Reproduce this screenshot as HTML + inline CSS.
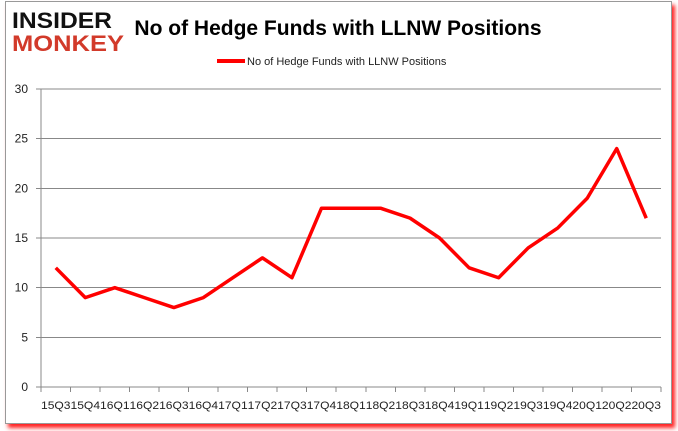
<!DOCTYPE html>
<html><head><meta charset="utf-8"><style>
body{margin:0;background:#fff;width:678px;height:431px;overflow:hidden;font-family:"Liberation Sans",sans-serif}
#frame{position:absolute;left:5px;top:1px;width:665px;height:421px;border:1px solid #999;background:#fff;box-shadow:3px 4px 4px #f22}
</style></head><body>
<div id="frame"></div>
<svg id="c" width="678" height="431" style="position:absolute;left:0;top:0">
<text x="12" y="28" font-size="22" font-weight="bold" fill="#111" font-family="Liberation Sans" textLength="100" lengthAdjust="spacingAndGlyphs">INSIDER</text>
<text x="12" y="51" font-size="22" font-weight="bold" fill="#d23a2a" font-family="Liberation Sans" textLength="112" lengthAdjust="spacingAndGlyphs">MONKEY</text>
<text x="338" y="35" font-size="21" font-weight="bold" fill="#000" text-anchor="middle">No of Hedge Funds with LLNW Positions</text>
<line x1="217" y1="61" x2="245" y2="61" stroke="#f00" stroke-width="4"/>
<text x="247" y="65" font-size="11" fill="#222">No of Hedge Funds with LLNW Positions</text>
<g id="g"></g>
</svg>
<script>
const categories=["15Q3","15Q4","16Q1","16Q2","16Q3","16Q4","17Q1","17Q2","17Q3","17Q4","18Q1","18Q2","18Q3","18Q4","19Q1","19Q2","19Q3","19Q4","20Q1","20Q2","20Q3"];
const values=[12,9,10,9,8,9,11,13,11,18,18,18,17,15,12,11,14,16,19,24,17];
const yTicks=[0,5,10,15,20,25,30];
const L=41,R=661,T=89,B=387,ymax=30;
const ns="http://www.w3.org/2000/svg",g=document.getElementById('g');
const bw=(R-L)/categories.length;
const x=i=>L+bw*(i+0.5), y=v=>B-(v/ymax)*(B-T);
function mk(t,a){const e=document.createElementNS(ns,t);for(const k in a)e.setAttribute(k,a[k]);g.appendChild(e);return e;}
yTicks.forEach(v=>{
 const ln=mk('line',{x1:L,x2:R,y1:y(v),y2:y(v),stroke:v==0?'#888':'#888','stroke-width':1,'shape-rendering':'crispEdges'});
 
 
 const tk=mk('line',{x1:L-5,x2:L,y1:y(v),y2:y(v),stroke:'#888','shape-rendering':'crispEdges'});
 
 
 const t=mk('text',{x:L-13,y:y(v)+4,'font-size':12,'text-anchor':'end',fill:'#222'});t.textContent=v;
 
 
});
const ax=mk('line',{x1:L,x2:L,y1:T,y2:B,stroke:'#888','shape-rendering':'crispEdges'});


for(let i=0;i<=categories.length;i++){
 const tk=mk('line',{x1:L+bw*i,x2:L+bw*i,y1:B,y2:B+5,stroke:'#888','shape-rendering':'crispEdges'});
 
 
}
categories.forEach((c,i)=>{
 const t=mk('text',{x:x(i),y:409,'font-size':11,'text-anchor':'middle',fill:'#222',textLength:bw,lengthAdjust:'spacingAndGlyphs'});t.textContent=c;
 
 
});
const p=mk('polyline',{points:values.map((v,i)=>x(i)+','+y(v)).join(' '),fill:'none',stroke:'#f00','stroke-width':3.5,'stroke-linejoin':'round'});


</script>
</body></html>
